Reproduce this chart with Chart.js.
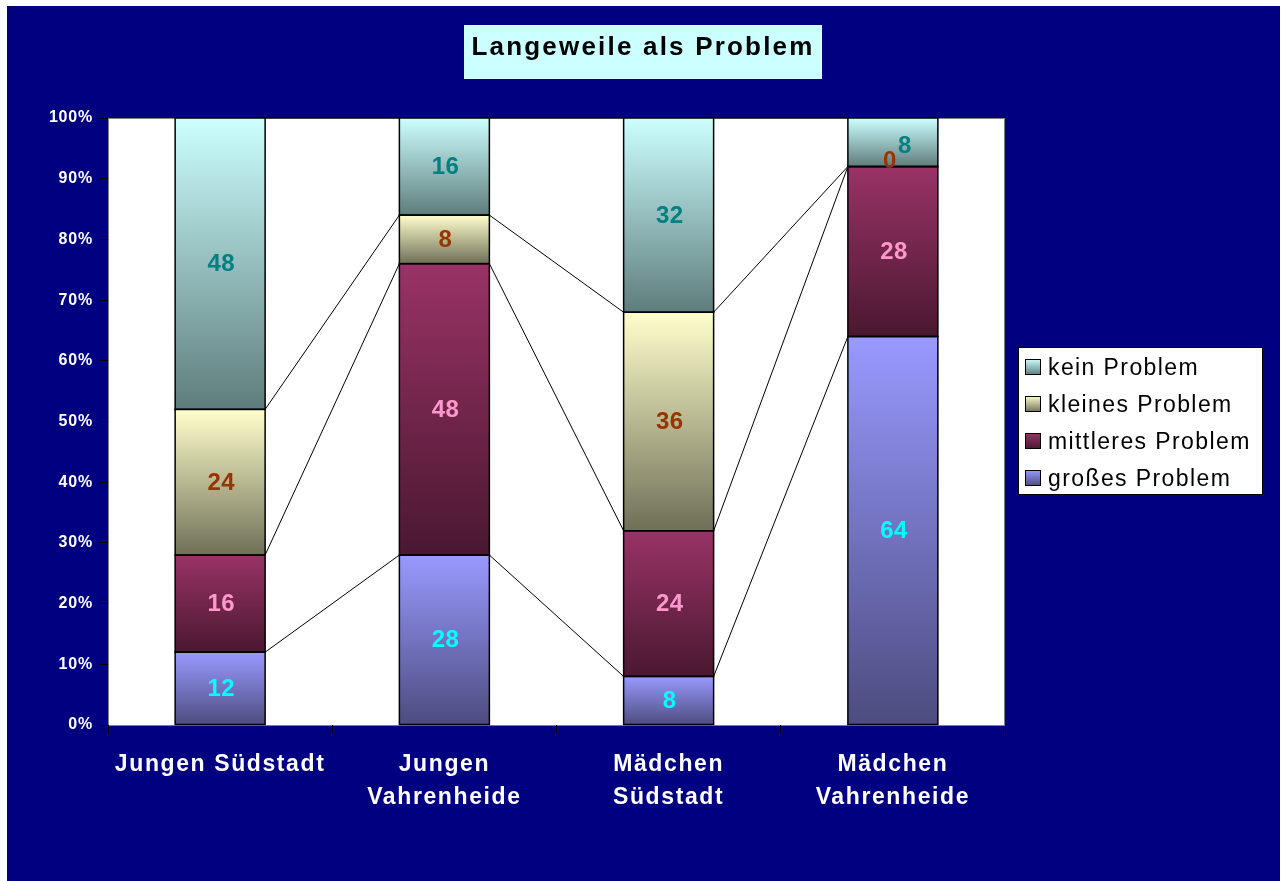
<!DOCTYPE html>
<html>
<head>
<meta charset="utf-8">
<script src="https://cdn.jsdelivr.net/npm/chart.js@4.4.1/dist/chart.umd.min.js"></script>
<style>
  html, body { margin: 0; padding: 0; background: #fff; }
  #wrap { position: relative; width: 1287px; height: 881px; }
</style>
</head>
<body>
<div id="wrap"><canvas id="chLangeweile"></canvas></div>
<script>
// Daten (Prozent je Gruppe)
const categories = ['Jungen Südstadt', ['Jungen', 'Vahrenheide'], ['Mädchen', 'Südstadt'], ['Mädchen', 'Vahrenheide']];
const seriesNames = ['großes Problem', 'mittleres Problem', 'kleines Problem', 'kein Problem'];
const grosses = [12, 28, 8, 64];
const mittleres = [16, 48, 24, 28];
const kleines = [24, 8, 36, 0];
const kein = [48, 16, 32, 8];
const series = [grosses, mittleres, kleines, kein];

// Verlauf hell (oben) -> dunkel (unten)
const shades = [
  ['#9999ff', '#4c4c7f'],
  ['#993366', '#4a1830'],
  ['#ffffcc', '#6f6f58'],
  ['#ccffff', '#5f7c7c']
];
const labelColors = ['#00ffff', '#ff99cc', '#993300', '#008080'];
const FONT = 'Arial, "Liberation Sans", sans-serif';
const NAVY = '#000080';

function segFill(d) {
  return c => {
    const chart = c.chart;
    if (!chart.chartArea || c.type !== 'data') return shades[d][0];
    const y = chart.scales.y, i = c.dataIndex;
    let lo = 0;
    for (let k = 0; k < d; k++) lo += series[k][i];
    const hi = lo + series[d][i];
    const top = y.getPixelForValue(hi), bot = y.getPixelForValue(lo);
    if (bot - top < 1) return shades[d][1];
    const g = chart.ctx.createLinearGradient(0, top, 0, bot);
    g.addColorStop(0, shades[d][0]);
    g.addColorStop(1, shades[d][1]);
    return g;
  };
}

const bgPlugin = {
  id: 'bg',
  beforeDraw(chart) {
    const { ctx, chartArea: a } = chart;
    ctx.save();
    ctx.fillStyle = '#fff';
    ctx.fillRect(0, 0, chart.width, chart.height);
    ctx.fillStyle = NAVY;
    ctx.fillRect(7, 6, 1273, 875);
    ctx.fillStyle = '#fff';
    ctx.fillRect(a.left, a.top, a.right - a.left, a.bottom - a.top);
    ctx.strokeStyle = '#808080';
    ctx.lineWidth = 1;
    ctx.strokeRect(a.left + 0.5, a.top + 0.5, a.right - a.left - 1, a.bottom - a.top);
    // Titel
    ctx.fillStyle = '#ccffff';
    ctx.fillRect(464, 25, 358, 54);
    ctx.fillStyle = '#000';
    ctx.font = 'bold 26px ' + FONT;
    ctx.letterSpacing = '2.2px';
    ctx.textAlign = 'center';
    ctx.textBaseline = 'alphabetic';
    ctx.fillText('Langeweile als Problem', 643, 55);
    ctx.restore();
  }
};

// Rahmen der Segmente + Verbindungslinien zwischen den Säulen
const seriesLines = {
  id: 'serieslines',
  afterDatasetsDraw(chart) {
    const ctx = chart.ctx;
    ctx.save();
    ctx.strokeStyle = '#000';
    chart.data.datasets.forEach((ds, d) => {
      const bars = chart.getDatasetMeta(d).data;
      ctx.lineWidth = 1.5;
      bars.forEach(el => {
        ctx.strokeRect(el.x - el.width / 2, el.y, el.width, el.base - el.y);
      });
      ctx.lineWidth = 1;
      for (let i = 0; i < bars.length - 1; i++) {
        const a = bars[i], b = bars[i + 1];
        ctx.beginPath();
        ctx.moveTo(a.x + a.width / 2, a.y);
        ctx.lineTo(b.x - b.width / 2, b.y);
        ctx.stroke();
      }
    });
    ctx.restore();
  }
};

const valueLabels = {
  id: 'valuelabels',
  afterDatasetsDraw(chart) {
    const ctx = chart.ctx;
    ctx.save();
    ctx.font = 'bold 24px ' + FONT;
    ctx.letterSpacing = '0.4px';
    ctx.textAlign = 'center';
    ctx.textBaseline = 'middle';
    const n = chart.data.labels.length;
    for (let i = 0; i < n; i++) {
      const pos = chart.data.datasets.map((ds, d) => {
        const el = chart.getDatasetMeta(d).data[i];
        return { x: el.x + 1, y: (el.y + el.base) / 2 + 1 };
      });
      // kleine Überlappungen auseinanderschieben
      for (let d = 1; d < pos.length; d++) {
        if (pos[d - 1].y - pos[d].y < 28) {
          pos[d - 1].x -= 4; pos[d - 1].y -= 6;
          pos[d].x += 11; pos[d].y += 3;
        }
      }
      pos.forEach((p, d) => {
        ctx.fillStyle = labelColors[d];
        ctx.fillText(String(series[d][i]), p.x, p.y);
      });
    }
    ctx.restore();
  }
};

const legendBox = {
  id: 'legendbox',
  afterDraw(chart) {
    const ctx = chart.ctx;
    ctx.save();
    ctx.fillStyle = '#fff';
    ctx.fillRect(1018, 347, 244, 147);
    ctx.strokeStyle = '#000';
    ctx.lineWidth = 1;
    ctx.strokeRect(1018.5, 347.5, 244, 147);
    ctx.font = '23px ' + FONT;
    ctx.letterSpacing = '1.4px';
    ctx.textAlign = 'left';
    ctx.textBaseline = 'alphabetic';
    for (let r = 0; r < 4; r++) {
      const d = 3 - r;
      const cy = 367 + r * 37;
      const g = ctx.createLinearGradient(0, cy - 8, 0, cy + 8);
      g.addColorStop(0, shades[d][0]);
      g.addColorStop(1, shades[d][1]);
      ctx.fillStyle = g;
      ctx.fillRect(1025, cy - 8, 16, 16);
      ctx.strokeStyle = '#000';
      ctx.strokeRect(1025.5, cy - 7.5, 15, 15);
      ctx.fillStyle = '#000';
      ctx.fillText(seriesNames[d], 1048, cy + 7.5);
    }
    ctx.restore();
  }
};

// Zeichenabstand für die Achsenbeschriftungen
const spacing = {
  id: 'spacing',
  afterLayout(chart) {
    [['x', '1.6px'], ['y', '0.8px']].forEach(([id, sp]) => {
      const s = chart.scales[id];
      if (s._spPatched) return;
      const orig = s.drawLabels;
      s.drawLabels = function (area) {
        this.ctx.letterSpacing = sp;
        orig.call(this, area);
        this.ctx.letterSpacing = '0px';
      };
      s._spPatched = true;
    });
  }
};

const datasets = series.map((data, d) => ({
  label: seriesNames[d],
  data: data,
  backgroundColor: segFill(d),
  borderWidth: 0,
  inflateAmount: 0,
  barPercentage: 0.4013,
  categoryPercentage: 1.0
}));

new Chart(document.getElementById('chLangeweile'), {
  type: 'bar',
  data: { labels: categories, datasets },
  options: {
    responsive: true, maintainAspectRatio: false, animation: false,
    layout: { padding: { top: 118, right: 282, left: 0, bottom: 0 } },
    plugins: { legend: { display: false }, title: { display: false }, tooltip: { enabled: false } },
    scales: {
      x: {
        stacked: true,
        afterFit: s => { s.height = 156; },
        grid: { drawOnChartArea: false, drawTicks: true, tickLength: 8, color: '#000', offset: true },
        border: { display: false },
        ticks: { color: '#fff', font: { family: FONT, size: 23, weight: 'bold', lineHeight: 1.43 }, padding: 15, maxRotation: 0, autoSkip: false }
      },
      y: {
        stacked: true, min: 0, max: 100,
        afterFit: s => { s.width = 108; },
        grid: { drawOnChartArea: false, drawTicks: true, tickLength: 8, color: '#000' },
        border: { display: false },
        ticks: { stepSize: 10, color: '#fff', padding: 7, font: { family: FONT, size: 16, weight: 'bold' }, callback: v => v + '%' }
      }
    }
  },
  plugins: [bgPlugin, spacing, seriesLines, valueLabels, legendBox]
});
</script>
</body>
</html>
